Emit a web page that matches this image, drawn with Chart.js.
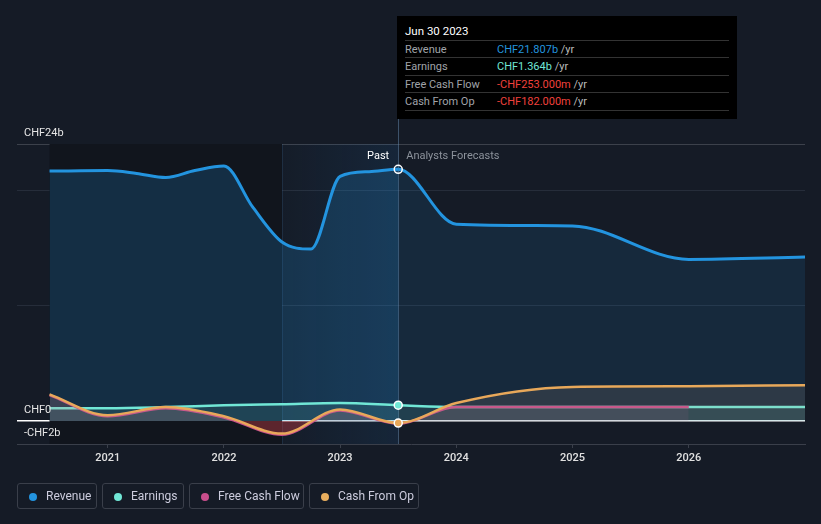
<!DOCTYPE html>
<html>
<head>
<meta charset="utf-8">
<script src="https://cdn.jsdelivr.net/npm/chart.js@4.4.1/dist/chart.umd.min.js"></script>
<style>
  body { margin: 0; background: #151b26; font-family: Roboto, sans-serif; }
  #wrap { position: relative; width: 821px; height: 524px; }
  #tip { position: absolute; left: 397px; top: 16px; width: 340px; height: 103px; background: #000; font-size: 11px; }
  #tip .date { position: absolute; left: 8px; top: 8px; color: #fff; font-size: 11.5px; }
  #tip .row { position: absolute; left: 8px; width: 324px; height: 17px; border-top: 1px solid #333; line-height: 17px; }
  #tip .lab { position: absolute; left: 0; color: #a0a4aa; }
  #tip .val { position: absolute; left: 92px; color: #bbb; }
  .legend { position: absolute; top: 483px; height: 26px; border: 1px solid #3a3f4a; border-radius: 3px; box-sizing: border-box; font-size: 12px; color: #ccd; line-height: 25px; }
  .legend i { position: absolute; left: 11px; top: 9px; width: 8px; height: 8px; border-radius: 50%; }
  .legend span { position: absolute; left: 28px; }
</style>
</head>
<body>
<div id="wrap">
  <canvas id="chart" width="821" height="524"></canvas>
  <div id="tip">
    <div class="date">Jun 30 2023</div>
    <div class="row" style="top:24px"><span class="lab">Revenue</span><span class="val"><b style="font-weight:normal;color:#2394df">CHF21.807b</b> /yr</span></div>
    <div class="row" style="top:41px"><span class="lab">Earnings</span><span class="val"><b style="font-weight:normal;color:#71e7d6">CHF1.364b</b> /yr</span></div>
    <div class="row" style="top:59px"><span class="lab">Free Cash Flow</span><span class="val"><b style="font-weight:normal;color:#f0413c">-CHF253.000m</b> /yr</span></div>
    <div class="row" style="top:76px; border-bottom:1px solid #333"><span class="lab">Cash From Op</span><span class="val"><b style="font-weight:normal;color:#f0413c">-CHF182.000m</b> /yr</span></div>
  </div>
  <div class="legend" style="left:17px;width:80px"><i style="background:#2394df"></i><span>Revenue</span></div>
  <div class="legend" style="left:102px;width:82px"><i style="background:#71e7d6"></i><span>Earnings</span></div>
  <div class="legend" style="left:189px;width:115px"><i style="background:#c84e8c"></i><span>Free Cash Flow</span></div>
  <div class="legend" style="left:309px;width:110px"><i style="background:#e8ae5e"></i><span>Cash From Op</span></div>
</div>
<script>
'use strict';

/* Data (CHF billions, x = fractional year) */
const revenueDates = [2020.5, 2021.0, 2021.25, 2021.5, 2021.75, 2022.0, 2022.25, 2022.5, 2022.75, 2023.0, 2023.25, 2023.5, 2024.0, 2025.0, 2026.0, 2027.0];
const revenueValues = [21.65, 21.7, 21.45, 21.1, 21.7, 22.1, 18.5, 15.5, 14.9, 21.2, 21.6, 21.807, 17.05, 16.9, 14.0, 14.2];
const earningsDates = [2020.5, 2021.0, 2021.5, 2022.0, 2022.5, 2023.0, 2023.5, 2024.0, 2025.0, 2026.0, 2027.0];
const earningsValues = [1.1, 1.1, 1.2, 1.35, 1.45, 1.55, 1.364, 1.2, 1.2, 1.2, 1.2];
const fcfDates = [2020.5, 2021.0, 2021.5, 2022.0, 2022.5, 2023.0, 2023.5, 2024.0, 2025.0, 2026.0];
const fcfValues = [2.25, 0.4, 1.1, 0.3, -1.2, 0.9, -0.253, 1.2, 1.2, 1.2];
const cfoDates = [2020.5, 2021.0, 2021.5, 2022.0, 2022.5, 2023.0, 2023.5, 2024.0, 2025.0, 2026.0, 2027.0];
const cfoValues = [2.3, 0.5, 1.2, 0.4, -1.1, 1.0, -0.182, 1.55, 2.95, 3.0, 3.1];
const xTicks = [2021, 2022, 2023, 2024, 2025, 2026];
const yLabels = [[24, 'CHF24b'], [0, 'CHF0'], [-2, '-CHF2b']];
const pastStart = 2020.5;
const highlightStart = 2022.5;
const nowDate = 2023.5;

const toPoints = (dates, values) => dates.map((d, i) => ({ x: d, y: values[i] }));
const markNow = () => (ctx) => (ctx.raw && ctx.raw.x === nowDate ? 4 : 0);

const ctx = document.getElementById('chart');

const backdrop = {
  id: 'backdrop',
  beforeDatasetsDraw(chart) {
    const c = chart.ctx;
    const x = chart.scales.x;
    const area = chart.chartArea;
    const x0 = x.getPixelForValue(pastStart);
    const x1 = x.getPixelForValue(highlightStart);
    const x2 = x.getPixelForValue(nowDate);
    c.save();
    c.fillStyle = '#11151d';
    c.fillRect(x0, area.top, x1 - x0, area.bottom - area.top);
    const g = c.createLinearGradient(x1, 0, x2, 0);
    g.addColorStop(0, 'rgba(33,120,200,0.02)');
    g.addColorStop(1, 'rgba(33,120,200,0.12)');
    c.fillStyle = g;
    c.fillRect(x1, area.top, x2 - x1, area.bottom - area.top);
    c.strokeStyle = 'rgba(70,120,170,0.2)';
    c.lineWidth = 1;
    c.beginPath();
    c.moveTo(Math.round(x1) + 0.5, area.top);
    c.lineTo(Math.round(x1) + 0.5, area.bottom);
    c.stroke();
    c.strokeStyle = 'rgba(110,150,190,0.45)';
    c.beginPath();
    c.moveTo(Math.round(x2) + 0.5, 16);
    c.lineTo(Math.round(x2) + 0.5, area.bottom);
    c.stroke();
    c.restore();
  },
  afterDraw(chart) {
    const c = chart.ctx;
    const x = chart.scales.x;
    const y = chart.scales.y;
    c.save();
    c.font = '11px Roboto';
    c.textBaseline = 'middle';
    c.fillStyle = '#e6e6e6';
    yLabels.forEach(([v, t]) => {
      c.fillText(t, 24, y.getPixelForValue(v) - 11);
    });
    const xn = x.getPixelForValue(nowDate);
    c.textAlign = 'right';
    c.fillStyle = '#ffffff';
    c.fillText('Past', xn - 9, 156);
    c.textAlign = 'left';
    c.fillStyle = '#8c929b';
    c.fillText('Analysts Forecasts', xn + 8, 156);
    c.restore();
  }
};

new Chart(ctx, {
  type: 'line',
  data: {
    datasets: [
      {
        label: 'Cash From Op',
        data: toPoints(cfoDates, cfoValues),
        borderColor: '#e8a85a',
        borderWidth: 2.5,
        backgroundColor: '#e8a85a',
        fill: { target: 'origin', above: 'rgba(200,170,140,0.13)', below: 'rgba(200,170,140,0.1)' },
        pointRadius: markNow(),
        pointBorderColor: '#fff',
        pointBorderWidth: 1.5,
        order: 0,
      },
      {
        label: 'Free Cash Flow',
        data: toPoints(fcfDates, fcfValues),
        borderColor: '#c84e8c',
        borderWidth: 2.5,
        backgroundColor: '#c84e8c',
        fill: { target: 'origin', above: 'rgba(200,78,140,0.1)', below: 'rgba(200,30,50,0.35)' },
        pointRadius: 0,
        order: 1,
      },
      {
        label: 'Earnings',
        data: toPoints(earningsDates, earningsValues),
        borderColor: '#71e7d6',
        borderWidth: 2.5,
        backgroundColor: '#71e7d6',
        fill: { target: 'origin', above: 'rgba(113,231,214,0.12)', below: 'rgba(113,231,214,0.12)' },
        pointRadius: markNow(),
        pointBorderColor: '#fff',
        pointBorderWidth: 1.5,
        order: 2,
      },
      {
        label: 'Revenue',
        data: toPoints(revenueDates, revenueValues),
        borderColor: '#2394df',
        borderWidth: 3,
        backgroundColor: 'rgba(35,148,223,0.13)',
        fill: 'origin',
        segment: {
          backgroundColor: (s) => (s.p1.parsed.x <= nowDate ? 'rgba(35,148,223,0.2)' : 'rgba(35,148,223,0.12)'),
        },
        pointRadius: markNow(),
        pointBorderColor: '#fff',
        pointBorderWidth: 1.5,
        order: 3,
      },
    ],
  },
  options: {
    responsive: false,
    animation: false,
    cubicInterpolationMode: 'monotone',
    layout: { padding: { top: 144, right: 16, left: 0, bottom: 0 } },
    plugins: { legend: { display: false }, tooltip: { enabled: false } },
    scales: {
      x: {
        type: 'linear',
        min: 2020.22,
        max: 2027.0,
        afterFit: (s) => { s.height = 80; },
        afterBuildTicks: (s) => { s.ticks = xTicks.map((v) => ({ value: v })); },
        ticks: { color: '#e0e0e0', font: { family: 'Roboto', size: 11, weight: '500' }, padding: 4, callback: (v) => String(v) },
        grid: { drawOnChartArea: false, drawTicks: true, tickLength: 4, color: '#3a3f4a' },
        border: { display: true, color: '#3a3f4a' },
      },
      y: {
        min: -2,
        max: 24,
        z: 1,
        afterFit: (s) => { s.width = 17; },
        afterBuildTicks: (s) => { s.ticks = [-2, 0, 10, 20, 24].map((v) => ({ value: v })); },
        ticks: { display: false },
        grid: {
          drawTicks: false,
          color: (c) => (c.tick.value === 0 ? '#ffffff' : c.tick.value === 24 ? '#3c414b' : c.tick.value === -2 ? 'rgba(0,0,0,0)' : 'rgba(80,90,105,0.3)'),
          lineWidth: (c) => (c.tick.value === 0 ? 1.5 : 1),
        },
        border: { display: false },
      },
    },
  },
  plugins: [backdrop],
});
</script>
</body>
</html>
